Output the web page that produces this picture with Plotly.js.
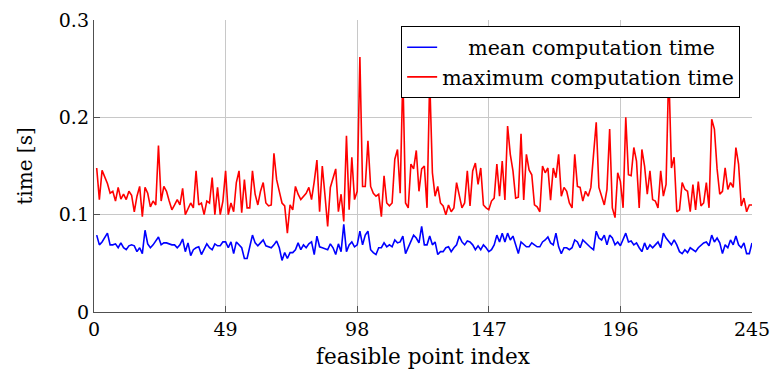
<!DOCTYPE html>
<html>
<head>
<meta charset="utf-8">
<script src="https://cdn.plot.ly/plotly-3.0.1.min.js"></script>
<style>html,body{margin:0;padding:0;background:#fff;}#chart{width:772px;height:372px;}</style>
</head>
<body>
<div id="chart"></div>
<script>
const meanTime = [
0.079,0.069,0.072,0.076,0.081,0.069,0.069,0.070,0.066,0.071,
0.066,0.064,0.068,0.069,0.068,0.062,0.066,0.060,0.084,0.070,
0.066,0.069,0.073,0.077,0.069,0.071,0.071,0.070,0.069,0.069,
0.066,0.069,0.075,0.062,0.071,0.058,0.064,0.066,0.067,0.059,
0.064,0.070,0.066,0.064,0.070,0.068,0.068,0.072,0.072,0.066,
0.072,0.060,0.072,0.069,0.066,0.055,0.055,0.067,0.079,0.071,
0.068,0.071,0.074,0.068,0.067,0.066,0.069,0.073,0.066,0.053,
0.061,0.055,0.061,0.061,0.064,0.071,0.064,0.069,0.066,0.070,
0.072,0.059,0.078,0.067,0.066,0.065,0.064,0.070,0.066,0.059,
0.070,0.062,0.090,0.062,0.069,0.072,0.067,0.069,0.083,0.069,
0.079,0.083,0.064,0.061,0.059,0.066,0.066,0.071,0.067,0.069,
0.067,0.074,0.071,0.072,0.078,0.060,0.066,0.072,0.079,0.076,
0.071,0.088,0.069,0.069,0.078,0.069,0.072,0.059,0.062,0.062,
0.066,0.067,0.062,0.066,0.069,0.078,0.072,0.069,0.073,0.072,
0.069,0.064,0.068,0.064,0.069,0.066,0.062,0.064,0.069,0.079,
0.072,0.081,0.072,0.081,0.074,0.078,0.069,0.060,0.072,0.069,
0.067,0.067,0.071,0.069,0.067,0.067,0.072,0.074,0.077,0.071,
0.069,0.081,0.067,0.060,0.066,0.066,0.064,0.066,0.074,0.072,
0.066,0.074,0.071,0.069,0.066,0.064,0.083,0.076,0.074,0.079,
0.069,0.079,0.076,0.069,0.072,0.068,0.075,0.081,0.072,0.073,
0.069,0.071,0.066,0.062,0.071,0.064,0.069,0.066,0.069,0.072,
0.066,0.081,0.076,0.072,0.069,0.074,0.069,0.062,0.060,0.064,
0.061,0.066,0.064,0.062,0.066,0.069,0.071,0.072,0.068,0.079,
0.072,0.076,0.071,0.060,0.069,0.066,0.074,0.069,0.078,0.069,
0.066,0.071,0.060,0.060,0.071
];
const maxTime = [
0.148,0.1155,0.1455,0.138,0.132,0.122,0.124,0.114,0.128,0.116,
0.121,0.1155,0.124,0.120,0.103,0.119,0.129,0.098,0.128,0.122,
0.108,0.114,0.110,0.171,0.114,0.129,0.124,0.114,0.105,0.110,
0.1155,0.110,0.127,0.100,0.107,0.112,0.107,0.145,0.110,0.112,
0.100,0.114,0.112,0.138,0.100,0.128,0.100,0.114,0.145,0.100,
0.112,0.103,0.133,0.145,0.102,0.136,0.107,0.107,0.145,0.121,
0.110,0.124,0.133,0.112,0.109,0.110,0.163,0.136,0.124,0.112,
0.109,0.081,0.110,0.105,0.129,0.121,0.1155,0.119,0.122,0.128,
0.1155,0.134,0.156,0.103,0.150,0.120,0.088,0.128,0.139,0.147,
0.103,0.121,0.093,0.181,0.105,0.159,0.1155,0.124,0.262,0.129,
0.129,0.176,0.129,0.122,0.119,0.121,0.098,0.140,0.112,0.109,
0.112,0.157,0.167,0.122,0.245,0.112,0.107,0.152,0.147,0.166,
0.124,0.147,0.150,0.107,0.240,0.143,0.119,0.129,0.112,0.109,
0.100,0.110,0.103,0.107,0.133,0.119,0.107,0.112,0.145,0.109,
0.145,0.153,0.131,0.148,0.110,0.107,0.105,0.114,0.117,0.152,
0.119,0.155,0.115,0.191,0.162,0.145,0.117,0.118,0.183,0.115,
0.162,0.146,0.141,0.110,0.108,0.103,0.150,0.143,0.148,0.115,
0.148,0.138,0.162,0.119,0.128,0.124,0.112,0.107,0.162,0.129,
0.128,0.114,0.124,0.119,0.128,0.162,0.195,0.128,0.119,0.110,
0.126,0.188,0.107,0.097,0.143,0.134,0.107,0.200,0.141,0.140,
0.169,0.155,0.107,0.167,0.150,0.121,0.145,0.1155,0.114,0.107,
0.145,0.119,0.131,0.250,0.148,0.159,0.103,0.105,0.133,0.126,
0.124,0.103,0.131,0.105,0.134,0.109,0.112,0.133,0.107,0.198,
0.188,0.147,0.121,0.124,0.148,0.126,0.133,0.128,0.169,0.152,
0.109,0.117,0.103,0.110,0.110
];
const pointIndex = meanTime.map((_, k) => k + 1);
const xTicks = [0, 49, 98, 147, 196, 245];
const yTicks = [0, 0.1, 0.2, 0.3];
const yTickText = ['0', '0.1', '0.2', '0.3'];
const seriesNames = ['mean computation time', 'maximum computation time'];

const FAM = 'DejaVu Serif';
const f = (s) => ({family: FAM, size: s, color: '#000'});
const data = [
  {x: pointIndex, y: meanTime, type: 'scatter', mode: 'lines', name: '\u00a0\u00a0\u00a0\u00a0' + seriesNames[0],
   line: {color: '#0000ff', width: 1.6}},
  {x: pointIndex, y: maxTime, type: 'scatter', mode: 'lines', name: seriesNames[1],
   line: {color: '#ff0000', width: 1.6}}
];
const axisCommon = {showgrid: true, gridcolor: '#c8c8c8', gridwidth: 1, zeroline: false,
  showline: true, linecolor: '#505050', linewidth: 1.2, ticks: 'inside', ticklen: 6,
  tickcolor: '#505050', tickfont: f(19)};
const layout = {
  width: 772, height: 372,
  margin: {l: 94, r: 20, t: 20, b: 60},
  paper_bgcolor: '#fff', plot_bgcolor: '#fff',
  font: f(19),
  showlegend: true,
  legend: {x: 0.982, y: 0.978, xanchor: 'right', yanchor: 'top', bgcolor: '#fff',
    bordercolor: '#000', borderwidth: 1, font: f(20.5),
    tracegroupgap: 0, itemwidth: 30},
  xaxis: Object.assign({}, axisCommon, {range: [0, 245], tickvals: xTicks,
    ticktext: xTicks.map(String), title: {text: 'feasible point index', font: f(21.5), standoff: 10}}),
  yaxis: Object.assign({}, axisCommon, {range: [0, 0.3], tickvals: yTicks, ticktext: yTickText,
    title: {text: 'time [s]', font: f(20), standoff: 20}})
};
Plotly.newPlot('chart', data, layout, {displayModeBar: false, staticPlot: true});
</script>
</body>
</html>
